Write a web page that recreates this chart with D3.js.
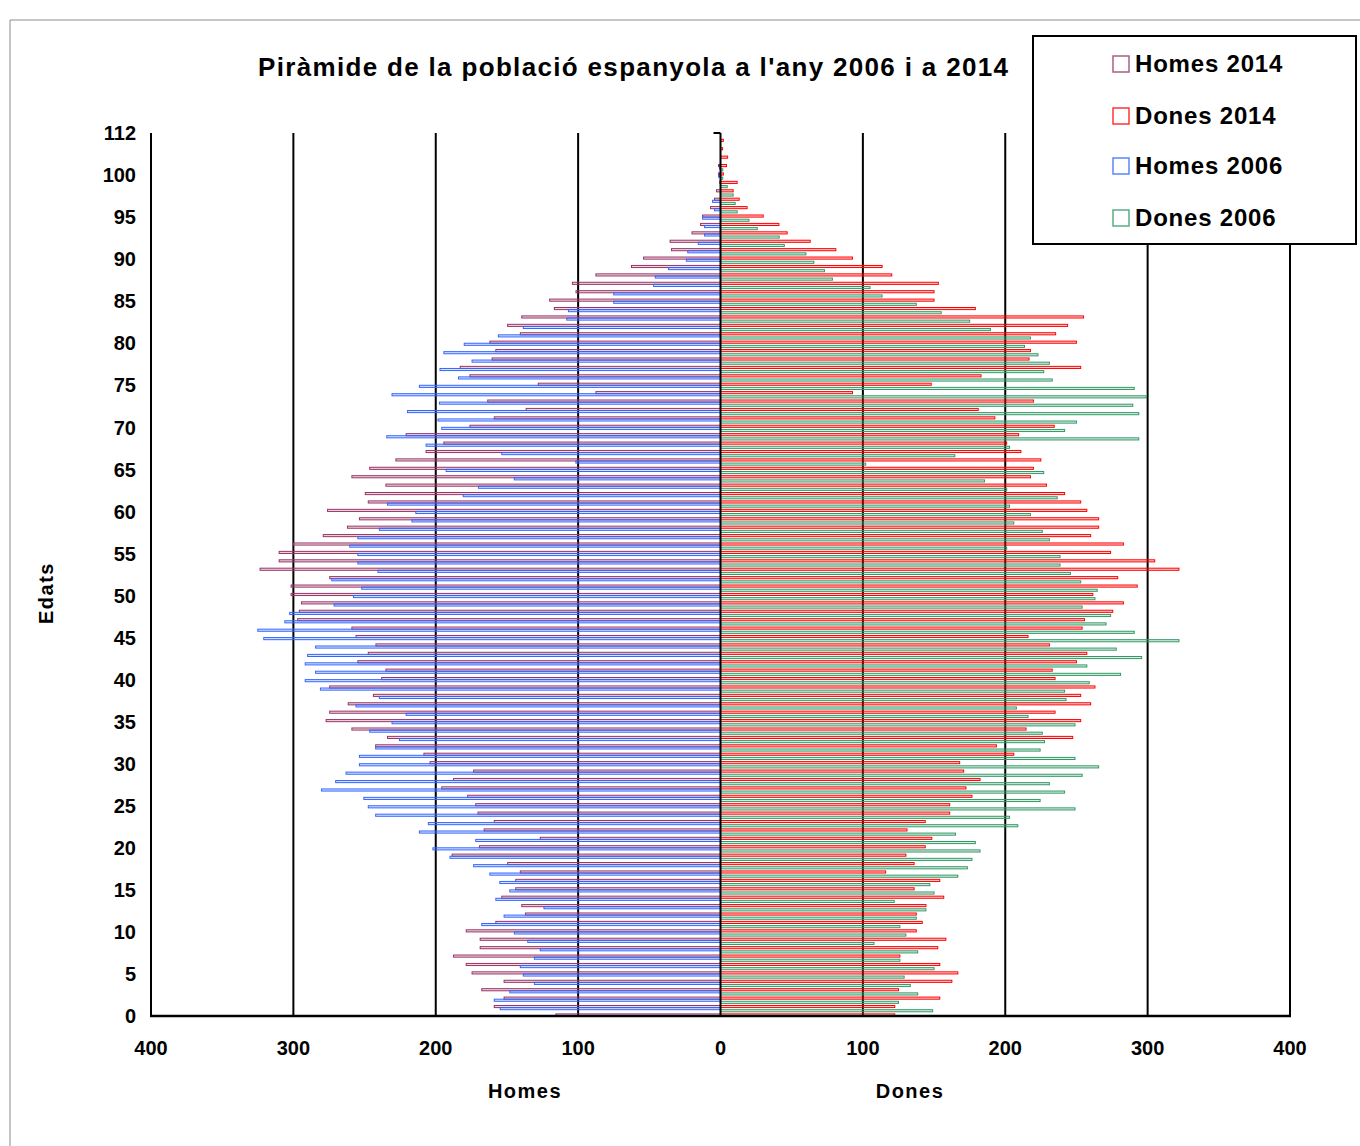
<!DOCTYPE html>
<html>
<head>
<meta charset="utf-8">
<script src="https://cdn.jsdelivr.net/npm/d3@7"></script>
<style>
  html, body { margin: 0; padding: 0; background: #fff; }
  svg text { font-family: "Liberation Sans", Arial, sans-serif; font-weight: bold; fill: #000; }
</style>
</head>
<body>
<div id="chart"></div>
<script>
// ages 0..104 (one band each)
const ages = d3.range(0, 105);

const homes2014 = [
  115.6, 158.9, 152, 167.7, 152, 174.5, 178.6, 187.5, 168.8, 168.8,
  178.6, 157.8, 137, 139.6, 153.6, 143.8, 143.8, 140.6, 149.5, 188.5,
  169.3, 126.6, 166, 158.9, 170.3, 171.9, 177.6, 195.8, 187.5, 173.4,
  204, 208.3, 242.2, 233.9, 258.9, 277, 274.5, 261.5, 243.8, 274.5,
  238, 235, 254.7, 247.4, 242, 256, 258.9, 297, 295.8, 294.3,
  301.6, 301.6, 274.5, 323.4, 310, 310, 300, 279, 262, 253.6,
  276, 247.4, 249.5, 235, 258.9, 246.4, 228, 206.8, 194.3, 220.8,
  176, 158.9, 136.5, 163.5, 87.5, 128, 176, 182.8, 160.4, 157.8,
  162, 140.6, 149.5, 139.6, 116.7, 120, 101.5, 104, 87.5, 62.5,
  54, 34.4, 35.4, 20, 14, 12.6, 7, 4.2, 2.8, 0.5,
  1.4, 1.4, 0, 0, 0
];
const dones2014 = [
  122.4, 122.4, 154, 125, 162.5, 166.7, 154, 126, 152.6, 158.3,
  137.5, 141.7, 137.5, 144.3, 156.8, 136, 154, 116, 136, 130.2,
  143.8, 148.4, 131, 143.8, 161, 161, 176.6, 172.4, 182.3, 170.8,
  168, 206, 193.8, 247.4, 214.6, 253, 235, 260, 253, 263,
  235, 233, 250, 257.3, 231, 216, 254, 255.7, 275.5, 283,
  261.5, 292.7, 279, 322, 305, 274, 283, 260, 265.6, 265.6,
  257.3, 253, 241.7, 229, 217.7, 219.8, 225, 211, 201, 209.4,
  234.4, 192.7, 181, 219.8, 92.7, 148, 183, 253, 216.7, 217.7,
  250, 235.4, 243.8, 255, 179, 150, 150, 153, 120.3, 113.5,
  92.7, 81, 63, 46.8, 41, 30, 18.7, 13.1, 8.9, 11.7,
  2, 4.2, 5, 1.5, 2
];
const homes2006 = [
  154.7, 158.9, 148, 130.7, 138.5, 140.6, 130.7, 126.6, 135.4, 144.8,
  167.7, 152, 124, 157.8, 148, 155, 162, 173.4, 190, 202,
  171.9, 211.5, 205.2, 242.2, 247.4, 250.5, 280.2, 270.3, 263, 253.6,
  253.6, 242.2, 225.5, 246.4, 230.7, 220.8, 256, 239.6, 281, 291.7,
  284.4, 291.7, 290, 284.4, 320.8, 325, 306, 302.6, 271.4, 257.8,
  252, 273, 240.6, 254.7, 254.7, 260.4, 254.7, 239.6, 216.7, 214,
  233.9, 180.7, 170, 144.8, 192.7, 101.6, 153.6, 206.8, 234.4, 195.8,
  198.4, 219.8, 197.4, 230.7, 211.5, 184, 197, 174.5, 194.3, 180,
  156, 138.5, 108, 106.8, 75, 75, 47, 45.8, 36.5, 24,
  23, 15.6, 11.2, 11.2, 12.6, 4.2, 5.6, 0, 0, 1.4,
  0.7, 0, 0, 0, 0
];
const dones2006 = [
  149, 125, 138.5, 133.3, 129, 150, 126, 138.5, 107.8, 130.2,
  126, 137.5, 144.3, 122, 150, 147, 166.7, 173.4, 176.6, 182.3,
  179, 165, 208.8, 203, 249, 224.5, 241.7, 231, 254, 265.6,
  249, 224.5, 227.6, 226, 249, 216, 207.8, 242.7, 241.7, 259,
  281, 257.3, 295.8, 278, 322, 290.6, 270.8, 274, 254, 263,
  264.6, 253, 245.8, 238.5, 238.5, 201, 231, 226, 206, 217.7,
  203, 236.5, 201, 185.4, 227, 102, 164.6, 203, 293.8, 241.7,
  250, 293.8, 289.6, 299, 290.6, 233, 227, 231, 223, 213.5,
  217.7, 189.6, 175, 155, 137.5, 113.5, 105, 78.6, 73, 65.6,
  60, 44.8, 41.2, 25.8, 20, 11.7, 10.3, 8.9, 4.7, 1.6,
  1.6, 0, 0, 0, 0
];

const yTickLabels = ["0", "5", "10", "15", "20", "25", "30", "35", "40", "45", "50",
  "55", "60", "65", "70", "75", "80", "85", "90", "95", "100", "112"];
const xTickValues = [-400, -300, -200, -100, 0, 100, 200, 300, 400];

const series = [
  { name: "Homes 2014", values: homes2014, side: -1, slot: "s2014", color: "#993366" },
  { name: "Dones 2014", values: dones2014, side: 1, slot: "s2014", color: "#FF0000" },
  { name: "Homes 2006", values: homes2006, side: -1, slot: "h2006", color: "#3366FF" },
  { name: "Dones 2006", values: dones2006, side: 1, slot: "d2006", color: "#339966" }
];

const width = 1360;
const height = 1146;
const plot = { left: 151, right: 1290, top: 133, bottom: 1016 };

const svg = d3.select("#chart")
  .append("svg")
  .attr("width", width)
  .attr("height", height)
  .attr("viewBox", `0 0 ${width} ${height}`);

// chart area border (only top/left visible in the frame)
svg.append("path")
  .attr("d", `M10,${height} V20 H${width}`)
  .attr("fill", "none")
  .attr("stroke", "#8c8c8c")
  .attr("stroke-width", 1);

const x = d3.scaleLinear().domain([-400, 400]).range([plot.left, plot.right]);
const yBand = d3.scaleBand().domain(ages).range([plot.bottom, plot.top]).padding(0);
const yEdge = d3.scaleLinear().domain([0, ages.length]).range([plot.bottom, plot.top]);
const slot = d3.scaleBand()
  .domain(["h2006", "d2006", "empty", "s2014"])
  .range([0, yBand.bandwidth()]);

// vertical gridlines
svg.append("g")
  .selectAll("line")
  .data(xTickValues.filter((d) => d !== 0))
  .join("line")
  .attr("x1", (d) => x(d))
  .attr("x2", (d) => x(d))
  .attr("y1", plot.top)
  .attr("y2", plot.bottom)
  .attr("stroke", "#000")
  .attr("stroke-width", 2);

// bars
const barLayer = svg.append("g");
series.forEach((s) => {
  barLayer.append("g")
    .selectAll("rect")
    .data(s.values.map((v, i) => ({ age: ages[i], v })).filter((d) => d.v > 0))
    .join("rect")
    .attr("x", (d) => (s.side < 0 ? x(-d.v) : x(0)))
    .attr("width", (d) => Math.abs(x(d.v) - x(0)))
    .attr("y", (d) => yBand(d.age) + slot(s.slot))
    .attr("height", slot.bandwidth())
    .attr("fill", s.color)
    .attr("fill-opacity", 0.18)
    .attr("stroke", s.color)
    .attr("stroke-width", 1);
});

// axis lines
svg.append("line")
  .attr("x1", x(0)).attr("x2", x(0))
  .attr("y1", plot.top).attr("y2", plot.bottom)
  .attr("stroke", "#000").attr("stroke-width", 2);
svg.append("line")
  .attr("x1", x(0) - 7).attr("x2", x(0))
  .attr("y1", yEdge(ages.length)).attr("y2", yEdge(ages.length))
  .attr("stroke", "#000").attr("stroke-width", 2);
svg.append("line")
  .attr("x1", plot.left - 1).attr("x2", plot.right + 1)
  .attr("y1", plot.bottom).attr("y2", plot.bottom)
  .attr("stroke", "#000").attr("stroke-width", 2.5);

// y tick labels
svg.append("g")
  .selectAll("text")
  .data(yTickLabels)
  .join("text")
  .attr("x", 136)
  .attr("y", (_, i) => yEdge(i * 5))
  .attr("dy", "0.36em")
  .attr("text-anchor", "end")
  .attr("font-size", 20)
  .text((d) => d);

// x tick labels
svg.append("g")
  .selectAll("text")
  .data(xTickValues)
  .join("text")
  .attr("x", (d) => x(d))
  .attr("y", 1055)
  .attr("text-anchor", "middle")
  .attr("font-size", 20)
  .text((d) => Math.abs(d));

// axis titles
svg.append("text")
  .attr("x", 525).attr("y", 1098)
  .attr("text-anchor", "middle")
  .attr("font-size", 20)
  .attr("letter-spacing", 1.5)
  .text("Homes");
svg.append("text")
  .attr("x", 910).attr("y", 1098)
  .attr("text-anchor", "middle")
  .attr("font-size", 20)
  .attr("letter-spacing", 1.5)
  .text("Dones");
svg.append("text")
  .attr("transform", "translate(53,593) rotate(-90)")
  .attr("text-anchor", "middle")
  .attr("font-size", 20)
  .attr("letter-spacing", 1.5)
  .text("Edats");

// title
svg.append("text")
  .attr("x", 258).attr("y", 76)
  .attr("font-size", 26)
  .attr("textLength", 750)
  .attr("lengthAdjust", "spacing")
  .text("Piràmide de la població espanyola a l'any 2006 i a 2014");

// legend
const legend = svg.append("g");
legend.append("rect")
  .attr("x", 1033).attr("y", 36)
  .attr("width", 323).attr("height", 208)
  .attr("fill", "#fff")
  .attr("stroke", "#000")
  .attr("stroke-width", 2);

const legendRows = legend.selectAll("g.entry")
  .data(series)
  .join("g")
  .attr("class", "entry")
  .attr("transform", (_, i) => `translate(1113, ${[64, 116, 166, 218][i]})`);

legendRows.append("rect")
  .attr("x", 0).attr("y", -8)
  .attr("width", 16).attr("height", 16)
  .attr("fill", "#fff")
  .attr("stroke", (d) => d.color)
  .attr("stroke-opacity", 0.8)
  .attr("stroke-width", 1.5);

legendRows.append("text")
  .attr("x", 22).attr("y", 8)
  .attr("font-size", 24)
  .attr("letter-spacing", 0.8)
  .text((d) => d.name);
</script>
</body>
</html>
